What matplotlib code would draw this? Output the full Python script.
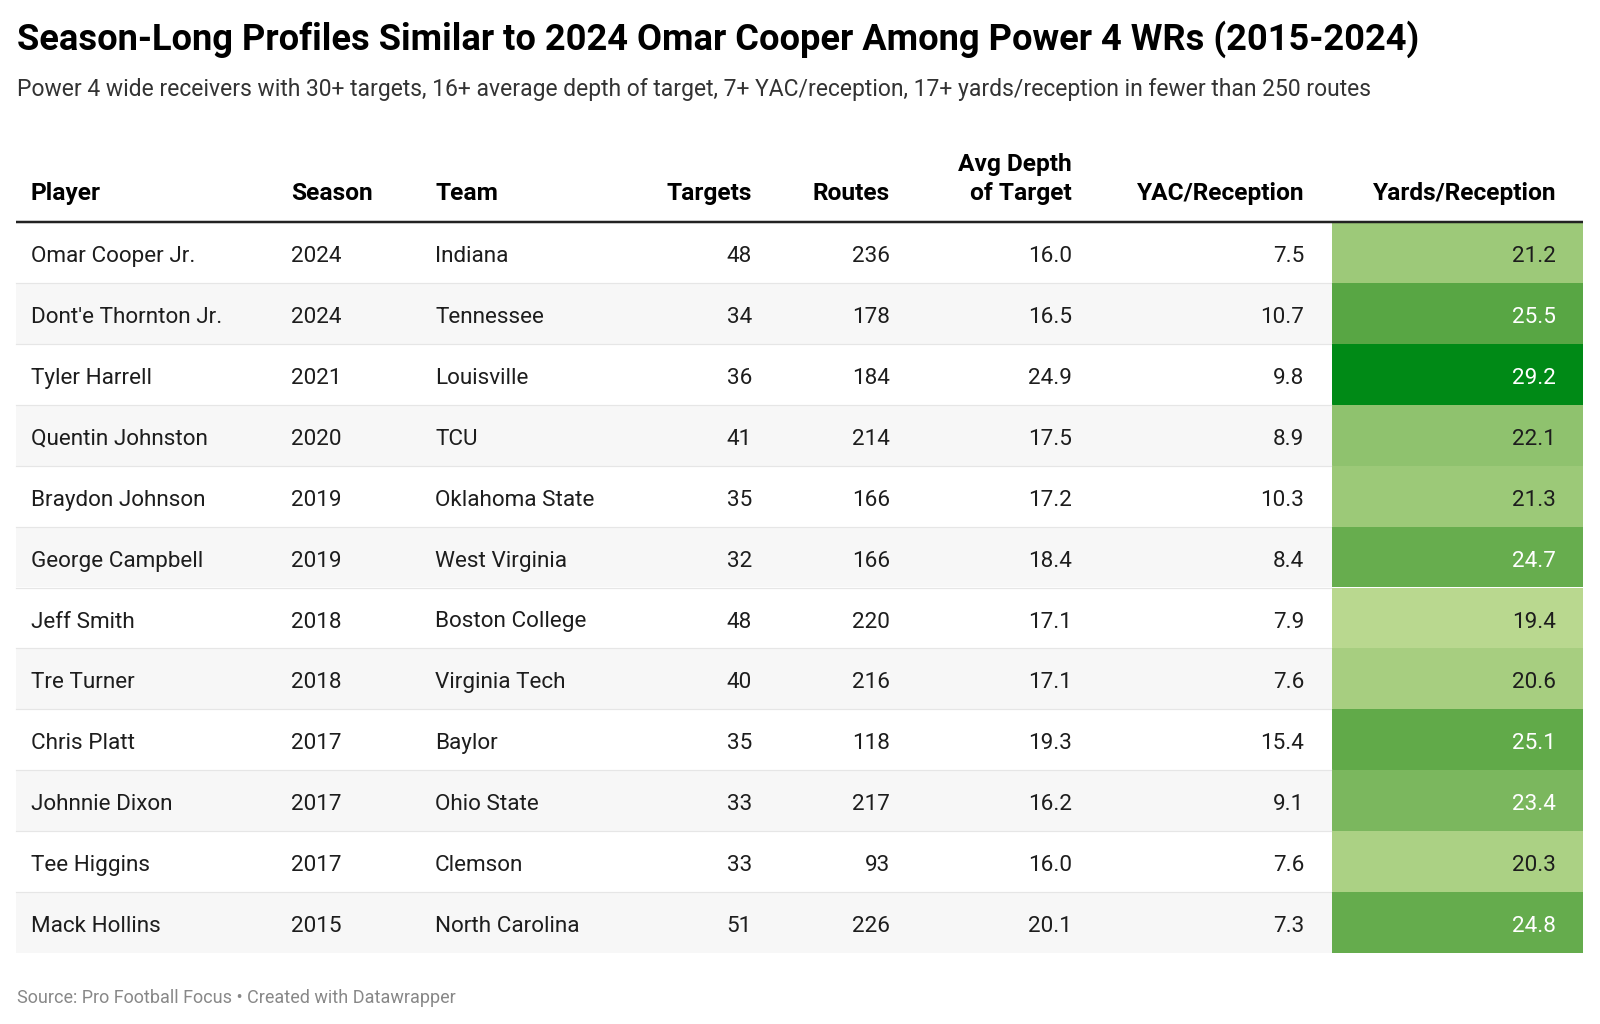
import numpy as np
import matplotlib
matplotlib.use("Agg")
import matplotlib.pyplot as plt
from matplotlib.patches import Rectangle
from matplotlib.colors import LinearSegmentedColormap, Normalize, to_rgb

plt.rcParams['font.family'] = ['Roboto', 'DejaVu Sans']

# table data
players = ["Omar Cooper Jr.", "Dont'e Thornton Jr.", "Tyler Harrell", "Quentin Johnston",
           "Braydon Johnson", "George Campbell", "Jeff Smith", "Tre Turner",
           "Chris Platt", "Johnnie Dixon", "Tee Higgins", "Mack Hollins"]
seasons = [2024, 2024, 2021, 2020, 2019, 2019, 2018, 2018, 2017, 2017, 2017, 2015]
teams = ["Indiana", "Tennessee", "Louisville", "TCU", "Oklahoma State", "West Virginia",
         "Boston College", "Virginia Tech", "Baylor", "Ohio State", "Clemson", "North Carolina"]
targets = [48, 34, 36, 41, 35, 32, 48, 40, 35, 33, 33, 51]
routes = [236, 178, 184, 214, 166, 166, 220, 216, 118, 217, 93, 226]
adot = [16.0, 16.5, 24.9, 17.5, 17.2, 18.4, 17.1, 17.1, 19.3, 16.2, 16.0, 20.1]
yac_per_rec = [7.5, 10.7, 9.8, 8.9, 10.3, 8.4, 7.9, 7.6, 15.4, 9.1, 7.6, 7.3]
yds_per_rec = [21.2, 25.5, 29.2, 22.1, 21.3, 24.7, 19.4, 20.6, 25.1, 23.4, 20.3, 24.8]

title = "Season-Long Profiles Similar to 2024 Omar Cooper Among Power 4 WRs (2015-2024)"
subtitle = ("Power 4 wide receivers with 30+ targets, 16+ average depth of target, "
            "7+ YAC/reception, 17+ yards/reception in fewer than 250 routes")
source = "Source: Pro Football Focus \u2022 Created with Datawrapper"

W, H = 1600, 1024
fig = plt.figure(figsize=(W / 100, H / 100), dpi=100)
ax = fig.add_axes([0, 0, 1, 1])
ax.set_xlim(0, W)
ax.set_ylim(H, 0)
ax.axis('off')

px = 72 / 100  # pixel -> point

left, right = 16, 1583
head_line = 222
row_h = (953 - head_line) / len(players)
heat_x0 = 1332

# colour scale for yards/reception
cmap = LinearSegmentedColormap.from_list(
    "greens", [(0.0, "#b9d88f"), (0.6, "#5ea847"), (1.0, "#008a16")])
norm = Normalize(min(yds_per_rec), max(yds_per_rec))

ax.text(17, 50, title, fontsize=36.2 * px, fontweight='bold', color='#000000', va='baseline')
ax.text(17, 96, subtitle, fontsize=22.9 * px, color='#333333', va='baseline')

# columns: (header lines, values, x, align)
columns = [
    (["Player"], players, 31, 'left'),
    (["Season"], [str(s) for s in seasons], 291, 'left'),
    (["Team"], teams, 435, 'left'),
    (["Targets"], [str(v) for v in targets], 752, 'right'),
    (["Routes"], [str(v) for v in routes], 890, 'right'),
    (["Avg Depth", "of Target"], [f"{v:.1f}" for v in adot], 1072, 'right'),
    (["YAC/Reception"], [f"{v:.1f}" for v in yac_per_rec], 1304, 'right'),
    (["Yards/Reception"], [f"{v:.1f}" for v in yds_per_rec], 1556, 'right'),
]

# row backgrounds
for i in range(len(players)):
    top = head_line + i * row_h
    bg = '#ffffff' if i % 2 == 0 else '#f7f7f7'
    ax.add_patch(Rectangle((left, top), right - left, row_h, facecolor=bg,
                           edgecolor='none', zorder=1))
    if i > 0:
        ax.plot([left, heat_x0], [top, top], color='#e6e6e6', lw=1.2 * px, zorder=2)
    ax.add_patch(Rectangle((heat_x0, top), right - heat_x0, row_h,
                           facecolor=cmap(norm(yds_per_rec[i])), edgecolor='none', zorder=2))

ax.plot([left, right], [head_line, head_line], color='#222222', lw=2.5 * px,
        solid_capstyle='butt', zorder=3)

for header, values, x, ha in columns:
    for k, line in enumerate(reversed(header)):
        ax.text(x, 200 - 29 * k, line, fontsize=24.5 * px, fontweight='bold',
                color='#000000', ha=ha, va='baseline')
    for i, val in enumerate(values):
        y = head_line + i * row_h + 40
        color = '#1d1d1d'
        if header[0] == "Yards/Reception":
            r, g, b = to_rgb(cmap(norm(yds_per_rec[i])))
            lum = 0.299 * r + 0.587 * g + 0.114 * b
            color = '#ffffff' if lum < 0.63 else '#1d1d1d'
        ax.text(x, y, val, fontsize=22.5 * px, color=color, ha=ha, va='baseline', zorder=4)

ax.text(17, 1003, source, fontsize=18 * px, color='#888888', va='baseline')

fig.savefig("out.png", dpi=100)
